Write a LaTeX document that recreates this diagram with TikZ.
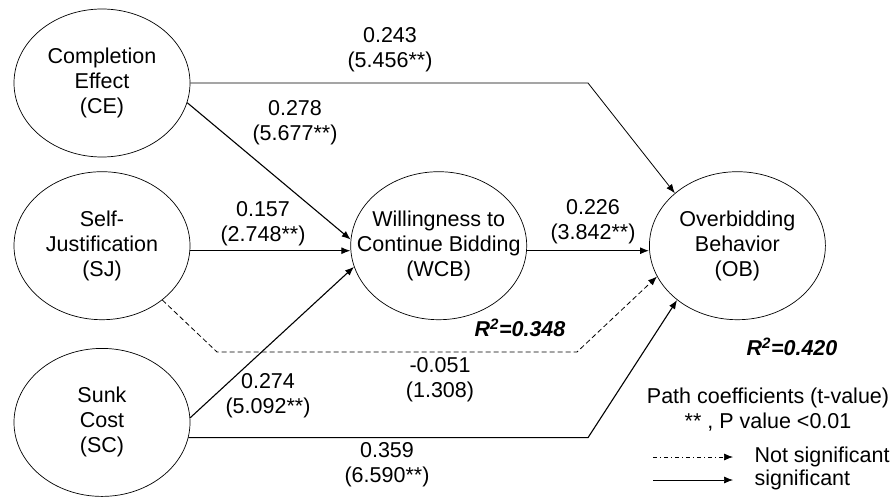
\documentclass[tikz,border=0pt]{standalone}
\usepackage{fontspec}
\setmainfont{Liberation Sans}
\usepackage{tikz}
\usetikzlibrary{arrows.meta}
\usetikzlibrary{positioning, shapes.geometric}

\tikzset{
    construct/.style={ellipse, draw, line width=0.7pt, minimum width=176pt, minimum height=148pt,
        inner xsep=-24pt, inner ysep=0pt, align=center},
    sig/.style={line width=1.1pt, -{Latex[length=9pt, width=7pt]}},
    nonsig/.style={sig, line width=0.8pt, dash pattern=on 5pt off 3pt},
    coef/.style={align=center},
    rsq/.style={font=\fontsize{21.5}{25}\selectfont\bfseries\itshape},
}

\begin{document}
\begin{tikzpicture}[x=1pt, y=-1pt, font=\fontsize{21.5}{25}\selectfont]
        \useasboundingbox (0,0) rectangle (890,496);

        % constructs
        \node[construct] (ce) at (102,83) {Completion\\Effect\\(CE)};
        \node[construct, below=14pt of ce] (sj) {Self-\\Justification\\(SJ)};
        \node[construct, below=28pt of sj] (sc) {Sunk\\Cost\\(SC)};
        \node[construct, right=160pt of sj] (wcb) {Willingness to\\Continue Bidding\\(WCB)};
        \node[construct, right=122pt of wcb] (ob) {Overbidding\\Behavior\\(OB)};

        % bends of the long paths
        \coordinate (ceturn) at (588,83);
        \coordinate (sjdrop) at (217,352);
        \coordinate (sjturn) at (577,352);

        \draw[sig, line width=0.8pt] (ce.east) -- (ceturn) -- (ob.140);
        \draw[sig] (ce.-13) -- (wcb.176);
        \draw[sig] ([yshift=-5pt]sj.east) -- ([yshift=-5pt]wcb.west);
        \draw[sig] (sc.3) -- (wcb.194);
        \draw[sig] ([yshift=-5pt]wcb.east) -- ([yshift=-5pt]ob.west);
        \draw[sig] (sc.350) -- (sc.350 -| ceturn) -- (ob.222);
        \draw[nonsig] (sj.318) -- (sjdrop) -- (sjturn) -- (ob.201); % not significant

        % path coefficients
        \node[coef] (ceob) at (390,50) {0.243\\(5.456**)};
        \node[coef] (cewcb) at (295,123) {0.278\\(5.677**)};
        \node[coef] (sjwcb) at (263,224) {0.157\\(2.748**)};
        \node[coef] (wcbob) at (593,222) {0.226\\(3.842**)};
        \node[coef] (sjob) at (440,380) {-0.051\\(1.308)};
        \node[coef] (scwcb) at (268,396) {0.274\\(5.092**)};
        \node[coef] (scob) at (387,465) {0.359\\(6.590**)};
        \node[rsq] (rwcb) at (520,328) {R\textsuperscript{2}=0.348};
        \node[rsq] (rob) at (792,347) {R\textsuperscript{2}=0.420};

        % legend
        \node[coef] (note) at (768,410) {Path coefficients (t-value)\\** , P value <0.01};
        \coordinate (ns0) at (653,457);
        \coordinate (ns1) at (733,457);
        \coordinate (s0) at (653,480);
        \coordinate (s1) at (733,480);
        \draw[sig, line width=0.7pt, dash pattern=on 4pt off 3pt on 1pt off 3pt] (ns0) -- (ns1);
        \draw[sig, line width=0.7pt] (s0) -- (s1);
        \node[right=18pt of ns1] (nslabel) {Not significant};
        \node[right=18pt of s1] (slabel) {significant};
\end{tikzpicture}
\end{document}
